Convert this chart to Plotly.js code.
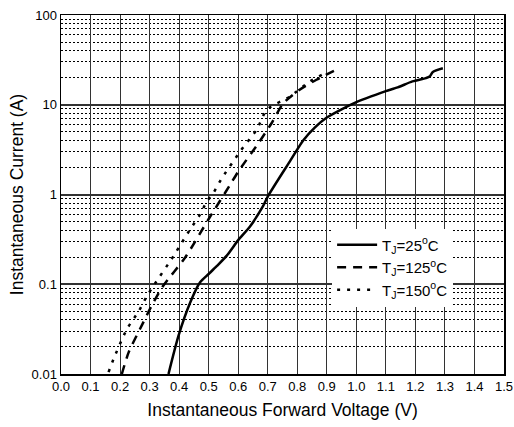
<!DOCTYPE html>
<html><head><meta charset="utf-8">
<script src="https://cdn.plot.ly/plotly-3.0.1.min.js"></script>
<style>html,body{margin:0;padding:0;background:#fff}#c{width:514px;height:427px}</style>
</head><body><div id="c"></div>
<script>
const v25 = [0.364, 0.398, 0.4375, 0.471, 0.50, 0.528, 0.562, 0.60, 0.64, 0.684, 0.701, 0.775, 0.82, 0.86, 0.90, 0.95, 1.0, 1.05, 1.10, 1.14, 1.19, 1.235, 1.248, 1.259, 1.293];
const i25 = [0.01, 0.0267, 0.0625, 0.105, 0.13, 0.16, 0.21, 0.31, 0.44, 0.74, 0.96, 2.34, 4.0, 5.6, 7.2, 8.9, 10.7, 12.4, 14.2, 15.6, 18.2, 19.8, 20.6, 23.2, 25.5];
const v125 = [0.206, 0.229, 0.274, 0.305, 0.345, 0.421, 0.4995, 0.573, 0.601, 0.669, 0.714, 0.753, 0.808, 0.865, 0.932];
const i125 = [0.01, 0.0174, 0.035, 0.056, 0.095, 0.2, 0.53, 1.29, 1.82, 3.75, 6.3, 10.4, 14.7, 19.0, 24.5];
const v150 = [0.161, 0.178, 0.223, 0.263, 0.291, 0.313, 0.381, 0.409, 0.4375, 0.471, 0.494, 0.516, 0.542, 0.607, 0.663, 0.697, 0.776, 0.843, 0.883];
const i150 = [0.0105, 0.0147, 0.0316, 0.05, 0.074, 0.096, 0.206, 0.29, 0.41, 0.6, 0.84, 1.04, 1.47, 3.03, 5.3, 8.8, 12.4, 18.2, 21.5];
const xTicks = [0,0.1,0.2,0.3,0.4,0.5,0.6,0.7,0.8,0.9,1.0,1.1,1.2,1.3,1.4,1.5];
const xTickText = xTicks.map(v => v.toFixed(1));
const yTicks = [0.01, 0.1, 1, 10, 100];
const yTickText = ["0.01", "0.1", "1", "10", "100"];
const names = ["T<sub>J</sub>=25<sup>o</sup>C", "T<sub>J</sub>=125<sup>o</sup>C", "T<sub>J</sub>=150<sup>o</sup>C"];

const F = "Liberation Sans, Arial, sans-serif";
const traces = [
  {x: v25, y: i25, name: names[0], mode: "lines", line: {color: "#000", width: 2.5, shape: "spline", smoothing: 0.7}},
  {x: v125, y: i125, name: names[1], mode: "lines", line: {color: "#000", width: 2.5, dash: "9px,7px", shape: "spline", smoothing: 0.7}},
  {x: v150, y: i150, name: names[2], mode: "lines", line: {color: "#000", width: 2.5, dash: "3px,7px", shape: "spline", smoothing: 0.7}}
];
const layout = {
  width: 514, height: 427,
  margin: {l: 61, r: 10, t: 15, b: 53},
  paper_bgcolor: "#fff", plot_bgcolor: "#fff",
  font: {family: F, color: "#000", size: 13},
  showlegend: true,
  legend: {x: 0.612, y: 0.405, xanchor: "left", yanchor: "top", bgcolor: "#fff",
           borderwidth: 0, font: {family: F, size: 15, color: "#000"},
           tracegroupgap: 0, itemwidth: 40},
  xaxis: {range: [0, 1.5], tickvals: xTicks, ticktext: xTickText, ticks: "",
          showgrid: true, gridcolor: "#333", gridwidth: 1, zeroline: false,
          showline: true, linecolor: "#000", linewidth: 1.5, mirror: true,
          tickfont: {family: F, size: 13},
          title: {text: "Instantaneous Forward Voltage (V)", font: {family: F, size: 17.5}, standoff: 10}},
  yaxis: {type: "log", range: [-2, 2], tickvals: yTicks, ticktext: yTickText, ticks: "",
          showgrid: true, gridcolor: "#333", gridwidth: 2, zeroline: false,
          showline: true, linecolor: "#000", linewidth: 1.5, mirror: true,
          tickfont: {family: F, size: 13},
          minor: {dtick: "D1", showgrid: true, gridcolor: "#000", gridwidth: 1, griddash: "2px,2px", ticks: ""},
          title: {text: "Instantaneous Current (A)", font: {family: F, size: 17.5}, standoff: 3}}
};
Plotly.newPlot("c", traces, layout, {displayModeBar: false, staticPlot: true});
</script></body></html>
